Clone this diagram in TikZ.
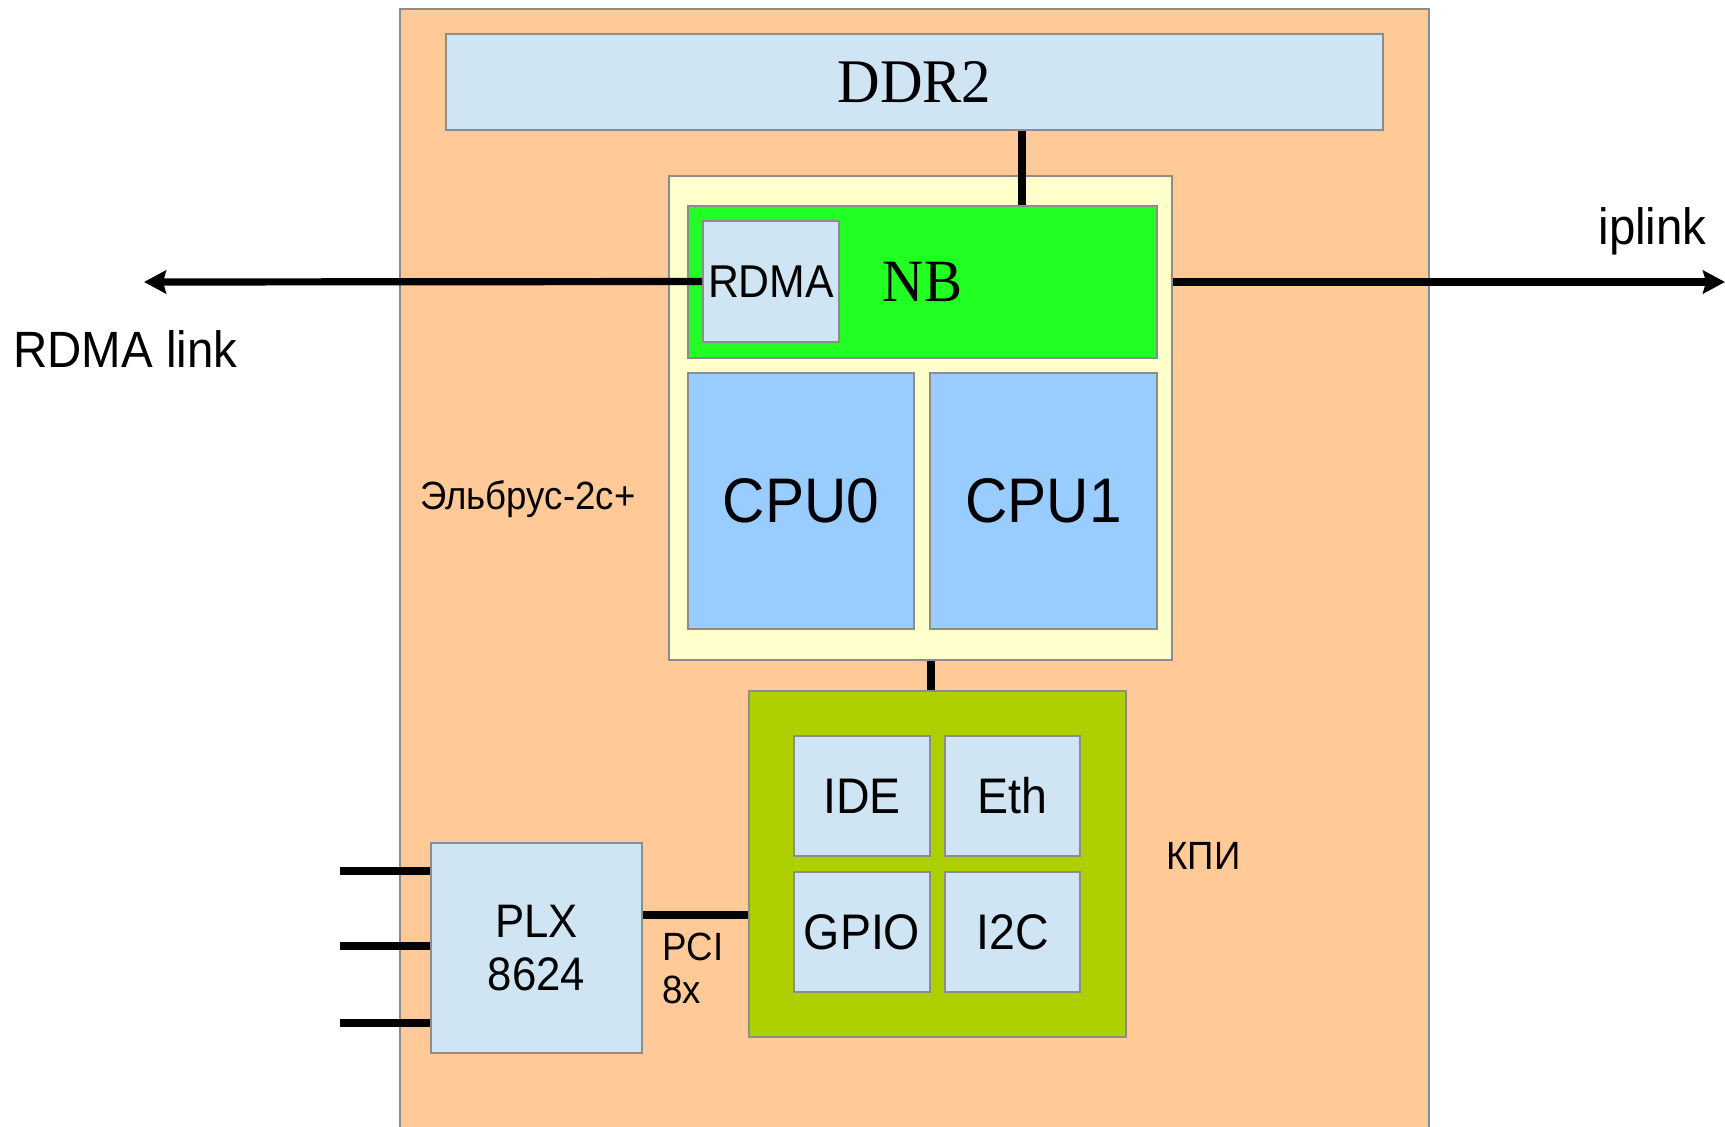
\documentclass[tikz,border=0pt]{standalone}
\usepackage{fontspec}
\setmainfont{Liberation Sans}[FakeStretch=0.93]
\newfontfamily\ddrfont{Liberation Serif}[FakeStretch=0.95]
\usetikzlibrary{arrows.meta}
\definecolor{boardfill}{HTML}{FFCA97}
\definecolor{memfill}{HTML}{CFE5F3}
\definecolor{chipfill}{HTML}{FFFFCC}
\definecolor{nbfill}{HTML}{22FF22}
\definecolor{cpufill}{HTML}{99CCFF}
\definecolor{kpifill}{HTML}{AFD000}
\definecolor{edgegray}{HTML}{8C8C8C}
\tikzset{
	blk/.style={draw=edgegray, line width=1pt, inner sep=0pt},
	bus/.style={line width=3.6pt},
	extlink/.style={bus, -{Stealth[length=11pt, width=11.5pt, inset=1.5pt]}},
	lbl/.style={inner sep=0pt, anchor=base west},
	cpufont/.style={font=\fontsize{31.5pt}{36pt}\selectfont},
	unitfont/.style={font=\fontsize{25pt}{29pt}\selectfont},
	smallfont/.style={font=\fontsize{19.7pt}{21.5pt}\selectfont},
	linkfont/.style={font=\fontsize{25.5pt}{28pt}\selectfont},
}

\begin{document}
\begin{tikzpicture}[x=0.5pt, y=-0.5pt]
	\useasboundingbox (0,0) rectangle (1725,1126);

	% board and memory
	\node[blk, fill=boardfill, minimum width=514.5pt, minimum height=563pt] (board) at (914.5,572) {};
	\node[blk, fill=memfill, minimum width=468.5pt, minimum height=48pt, font=\ddrfont\fontsize{31pt}{34pt}\selectfont] (ddr) at (914.5,82) {DDR2};

	% processor
	\node[blk, fill=chipfill, minimum width=251.5pt, minimum height=242pt] (chip) at (920.5,418) {};
	\node[blk, fill=nbfill, minimum width=234.5pt, minimum height=76pt, font=\ddrfont\fontsize{30pt}{34pt}\selectfont] (nb) at (922.5,282) {NB};
	\node[blk, fill=memfill, minimum width=68pt, minimum height=60.5pt, font=\fontsize{23pt}{27pt}\selectfont] (rdma) at (771,281.5) {RDMA};
	\node[blk, fill=cpufill, minimum width=113pt, minimum height=128pt, cpufont] (cpu0) at (801,501) {CPU0};
	\node[blk, fill=cpufill, minimum width=113.5pt, minimum height=128pt, cpufont] (cpu1) at (1043.5,501) {CPU1};
	\node[lbl, smallfont] (cpuname) at (420,509) {Эльбрус-2с+};

	% KPI
	\node[blk, fill=kpifill, minimum width=188.5pt, minimum height=173pt] (kpi) at (937.5,864) {};
	\node[blk, fill=memfill, minimum width=68pt, minimum height=60pt, unitfont] (ide) at (862,796) {IDE};
	\node[blk, fill=memfill, minimum width=67.5pt, minimum height=60pt, unitfont] (eth) at (1012.5,796) {Eth};
	\node[blk, fill=memfill, minimum width=68pt, minimum height=60pt, unitfont] (gpio) at (862,932) {GPIO};
	\node[blk, fill=memfill, minimum width=67.5pt, minimum height=60pt, unitfont] (iic) at (1012.5,932) {I2C};
	\node[lbl, smallfont] (kpiname) at (1166,869) {КПИ};

	% PLX
	\node[blk, fill=memfill, minimum width=105.5pt, minimum height=105pt, align=center, font=\fontsize{23.5pt}{26.5pt}\selectfont] (plx) at (536.5,948) {PLX\\8624};
	\node[lbl, smallfont, align=left] (pci) at (662,1003) {PCI\\8x};

	% external links
	\coordinate (rdmaend) at (144,282);
	\coordinate (iplinkend) at (1725,282);
	\node[lbl, linkfont] (rdmalabel) at (13,367) {RDMA link};
	\node[inner sep=0pt, anchor=base east, linkfont] (iplabel) at (1707,244) {iplink};

	% buses
	\coordinate (membus) at (1022,0);
	\coordinate (iobus) at (931,0);
	\coordinate (pcibus) at (0,915);
	\draw[bus] (ddr.south -| membus) -- (nb.north -| membus);
	\draw[bus] (chip.south -| iobus) -- (kpi.north -| iobus);
	\draw[bus] (plx.east |- pcibus) -- (kpi.west |- pcibus);
	\draw[extlink] (rdma.west) -- (rdmaend);
	\draw[extlink] (chip.east |- nb.center) -- (iplinkend);
	\foreach \y in {871,946,1023}
		\draw[bus] (340,\y) -- (plx.west |- 0,\y);
\end{tikzpicture}
\end{document}
